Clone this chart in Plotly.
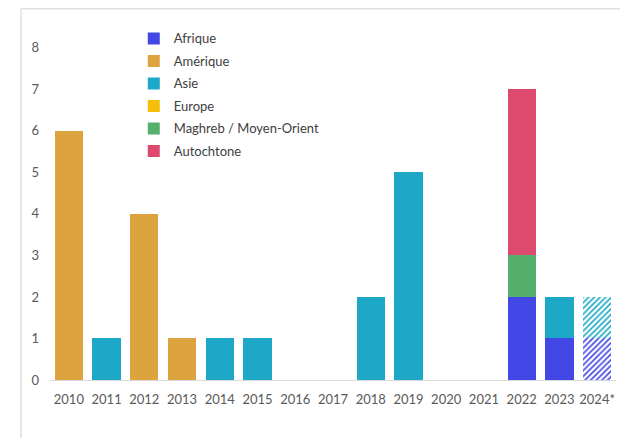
import plotly.graph_objects as go

years = ["2010", "2011", "2012", "2013", "2014", "2015", "2016", "2017",
         "2018", "2019", "2020", "2021", "2022", "2023", "2024*"]
afrique    = [0, 0, 0, 0, 0, 0, 0, 0, 0, 0, 0, 0, 2, 1, 1]
amerique   = [6, 0, 4, 1, 0, 0, 0, 0, 0, 0, 0, 0, 0, 0, 0]
asie       = [0, 1, 0, 0, 1, 1, 0, 0, 2, 5, 0, 0, 0, 1, 1]
europe     = [0, 0, 0, 0, 0, 0, 0, 0, 0, 0, 0, 0, 0, 0, 0]
maghreb    = [0, 0, 0, 0, 0, 0, 0, 0, 0, 0, 0, 0, 1, 0, 0]
autochtone = [0, 0, 0, 0, 0, 0, 0, 0, 0, 0, 0, 0, 4, 0, 0]
provisional = ["2024*"]

series = [
    ("Afrique", afrique, "#4347E6"),
    ("Amérique", amerique, "#DCA33F"),
    ("Asie", asie, "#1CA8C6"),
    ("Europe", europe, "#F5BE0B"),
    ("Maghreb / Moyen-Orient", maghreb, "#55B06E"),
    ("Autochtone", autochtone, "#DE4A6D"),
]

fig = go.Figure()
for i, (name, vals, col) in enumerate(series):
    shapes = ["/" if y in provisional else "" for y in years]
    fig.add_trace(go.Bar(
        x=years, y=vals, name=name, legendgroup=name,
        marker=dict(color=col, line=dict(width=0),
                    pattern=dict(shape=shapes, fgcolor=col, bgcolor="white",
                                 size=4, solidity=0.4, fillmode="replace")),
    ))

fig.update_layout(
    barmode="stack",
    bargap=0.25,
    width=620, height=430,
    margin=dict(l=42, r=12, t=19, b=58),
    plot_bgcolor="white", paper_bgcolor="white",
    font=dict(family="Lato, Open Sans, sans-serif", size=13, color="#595959"),
    showlegend=True,
    legend=dict(x=0.148, y=1.01, xanchor="left", yanchor="top",
                bgcolor="rgba(0,0,0,0)", tracegroupgap=2.6,
                font=dict(size=13, color="#404040"), traceorder="grouped"),
    xaxis=dict(showgrid=False, showline=True, linecolor="#D9D9D9", linewidth=1,
               ticks="", ticklabelstandoff=7,
               tickfont=dict(size=13, color="#595959"), fixedrange=True),
    yaxis=dict(range=[0, 8.5], dtick=1, showgrid=False, zeroline=False,
               showline=False, ticks="", ticklen=0, ticklabelstandoff=10,
               tickfont=dict(size=13, color="#595959")),
    shapes=[
        dict(type="line", xref="paper", yref="paper", x0=-0.0512, x1=-0.0512,
             y0=1.052, y1=-0.2, line=dict(color="#E0E0E0", width=1.5)),
        dict(type="line", xref="paper", yref="paper", x0=-0.0512, x1=1.03,
             y0=1.052, y1=1.052, line=dict(color="#E0E0E0", width=1.5)),
    ],
)

fig.write_html("out.html")
